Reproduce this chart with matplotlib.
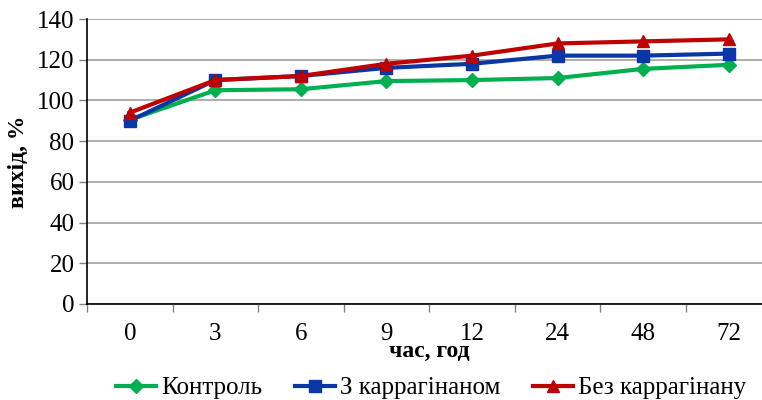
import numpy as np
import matplotlib
matplotlib.use("Agg")
import matplotlib.pyplot as plt

plt.rcParams['font.family'] = ['Liberation Serif', 'DejaVu Serif']

hours = ["0", "3", "6", "9", "12", "24", "48", "72"]
control = [90.5, 105, 105.5, 109.5, 110, 111, 115.5, 117.5]
with_carr = [90, 110, 112, 116, 118, 122, 122, 123]
without_carr = [94, 110, 112, 118, 122, 128, 129, 130]

fig = plt.figure(figsize=(7.62, 4.0), dpi=100)
ax = fig.add_axes([87 / 762, 96 / 400, 684.5 / 762, 285 / 400])

x = np.arange(len(hours))
ax.plot(x, control, color='#00B050', lw=3, marker='D', ms=7, label='Контроль', zorder=3)
ax.plot(x, with_carr, color='#0A37A6', lw=3, marker='s', ms=8, label='З каррагінаном', zorder=4)
ax.plot(x, without_carr, color='#C00000', lw=3, marker='^', ms=9, label='Без каррагінану', zorder=5)

ax.set_xlim(-0.5, len(hours) - 0.5)
ax.set_ylim(0, 140)
ax.set_yticks(range(0, 141, 20))
ax.yaxis.grid(True, color='#A0A0A0', lw=1.2)
ax.set_axisbelow(True)

ax.set_xticks(x)
ax.set_xticklabels(hours)
ax.set_xticks(np.arange(-0.5, len(hours), 1), minor=True)
ax.tick_params(axis='x', which='major', length=0, pad=14, labelsize=18)
ax.tick_params(axis='x', which='minor', length=6, color='#808080', width=1)
ax.tick_params(axis='y', length=6, width=1, color='#808080', labelsize=18, pad=3)

for s in ['top', 'right']:
    ax.spines[s].set_visible(False)
ax.spines['left'].set_linewidth(1.2)
ax.spines['bottom'].set_linewidth(1.2)

ax.set_xlabel('час, год', fontsize=17, fontweight='bold', labelpad=-3)
ax.set_ylabel('вихід, %', fontsize=17, fontweight='bold', labelpad=6)

fig.legend(loc='center', bbox_to_anchor=(0.566, 0.03), ncol=3, frameon=False,
           fontsize=18, handlelength=1.6, handletextpad=0.2, columnspacing=1.3)

fig.savefig('out.png', dpi=100)
